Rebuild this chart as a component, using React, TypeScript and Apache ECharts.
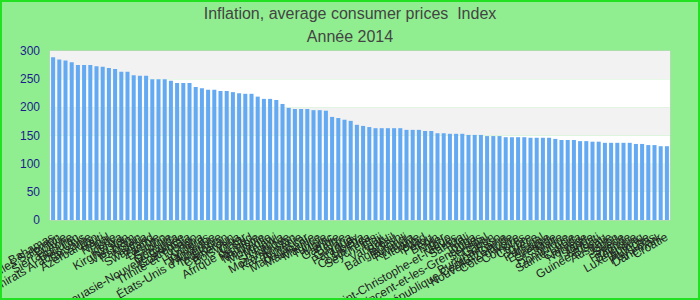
import React, { useEffect, useRef } from "react";
import * as echarts from "echarts";

const categories: string[] = [
  "Bahamas", "Îles Salomon", "Bolivie", "Sierra Leone", "Bhoutan", "Émirats Arabes Unis", "Tanzanie", "Azerbaïdjan", "Haïti", "Népal",
  "Inde", "Kenya", "Kirghizistan", "Viet Nam", "Pakistan", "Nigéria", "Swaziland", "Zambie", "Lesotho", "Géorgie",
  "Ouganda", "Papouasie-Nouvelle-Guinée", "Guatemala", "Trinité-et-Tobago", "Ghana", "Honduras", "Jamaïque", "États-Unis d'Amérique", "Tadjikistan", "Cameroun",
  "Botswana", "Qatar", "Afrique du Sud", "Namibie", "Moldavie", "Mongolie", "Malawi", "Sri Lanka", "Mozambique", "Kazakhstan",
  "Arménie", "Madagascar", "Mauritanie", "Maurice", "Tunisie", "Maroc", "Gambie", "Belize", "Guyana", "Paraguay",
  "Libéria", "Costa Rica", "Seychelles", "Fidji", "Vanuatu", "Brésil", "Bangladesh", "Burundi", "Rwanda", "Lituanie",
  "Tchad", "Pérou", "Bénin", "Niger", "Togo", "Saint-Christophe-et-Niévès", "Samoa", "Mali", "Tonga", "Saint-Vincent-et-les-Grenadines",
  "Sénégal", "Gabon", "Burkina Faso", "République Centrafricaine", "Nouvelle-Zélande", "Côte d'Ivoire", "Comores", "Chypre", "Grèce", "Portugal",
  "Espagne", "Grenade", "Malte", "Dominique", "Sainte-Lucie", "Canada", "Norvège", "Islande", "Kiribati", "Guinée-Bissau",
  "Australie", "Japon", "Suède", "Finlande", "Belgique", "Luxembourg", "Autriche", "Pays-Bas", "Danemark", "Croatie",
];

const values: number[] = [
  289, 285, 283, 280, 275, 275, 275, 273, 272, 270,
  268, 263, 263, 257, 256, 256, 250, 250, 250, 247,
  243, 243, 243, 236, 234, 231, 231, 229, 229, 227,
  225, 224, 224, 219, 215, 215, 213, 206, 199, 197,
  197, 197, 195, 195, 194, 183, 181, 178, 176, 169,
  167, 165, 163, 163, 163, 163, 163, 160, 160, 160,
  158, 158, 154, 154, 153, 153, 153, 151, 151, 151,
  149, 149, 149, 147, 147, 147, 147, 146, 146, 146,
  146, 144, 142, 142, 142, 140, 140, 139, 139, 137,
  137, 137, 137, 137, 135, 135, 133, 133, 131, 131,
];

const titleText = "Inflation, average consumer prices  Index";
const subtitleText = "Année 2014";
const yMin = 0;
const yMax = 300;
const yInterval = 50;

const FONT = 'Arial, "Liberation Sans", sans-serif';

export default function App() {
  const ref = useRef<HTMLDivElement>(null);
  useEffect(() => {
    if (!ref.current) return;
    const chart = echarts.init(ref.current, undefined, { renderer: "svg" });
    chart.setOption({
      animation: false,
      backgroundColor: "#90ee90",
      textStyle: { fontFamily: FONT },
      title: {
        text: titleText + "\n" + subtitleText,
        left: "center",
        top: 2,
        padding: 0,
        textStyle: {
          color: "#444444",
          fontSize: 16,
          fontWeight: "normal",
          fontFamily: FONT,
          lineHeight: 23,
        },
      },
      graphic: [
        {
          type: "rect",
          shape: { x: 1, y: 1, width: 698, height: 298 },
          style: { fill: "none", stroke: "#22e022", lineWidth: 2 },
          silent: true,
          z: 100,
        },
      ],
      grid: {
        left: 50,
        right: 30,
        top: 51,
        bottom: 80,
        containLabel: false,
        outerBoundsMode: "none",
        show: true,
        borderColor: "#cccccc",
        borderWidth: 1,
        backgroundColor: "transparent",
      },
      xAxis: {
        type: "category",
        data: categories,
        axisLine: { show: false },
        axisTick: { show: false },
        axisLabel: {
          interval: 0,
          rotate: 30,
          color: "#222222",
          fontSize: 12,
          fontFamily: FONT,
          margin: 16,
        },
      },
      yAxis: {
        type: "value",
        min: yMin,
        max: yMax,
        interval: yInterval,
        axisLine: { show: false },
        axisTick: { show: false },
        splitLine: { show: false },
        splitArea: { show: true, areaStyle: { color: ["#ffffff", "#f2f2f2"] } },
        axisLabel: { color: "#1c1c8c", fontSize: 12, fontFamily: FONT, margin: 10 },
      },
      series: [
        {
          type: "bar",
          data: values,
          barWidth: "65%",
          itemStyle: { color: "#64aaf2" },
        },
      ],
    });
    return () => chart.dispose();
  }, []);
  return (
    <div style={{ position: "absolute", left: 0, top: 0, width: 700, height: 300 }}>
      <div ref={ref} style={{ width: 700, height: 300 }} />
    </div>
  );
}
